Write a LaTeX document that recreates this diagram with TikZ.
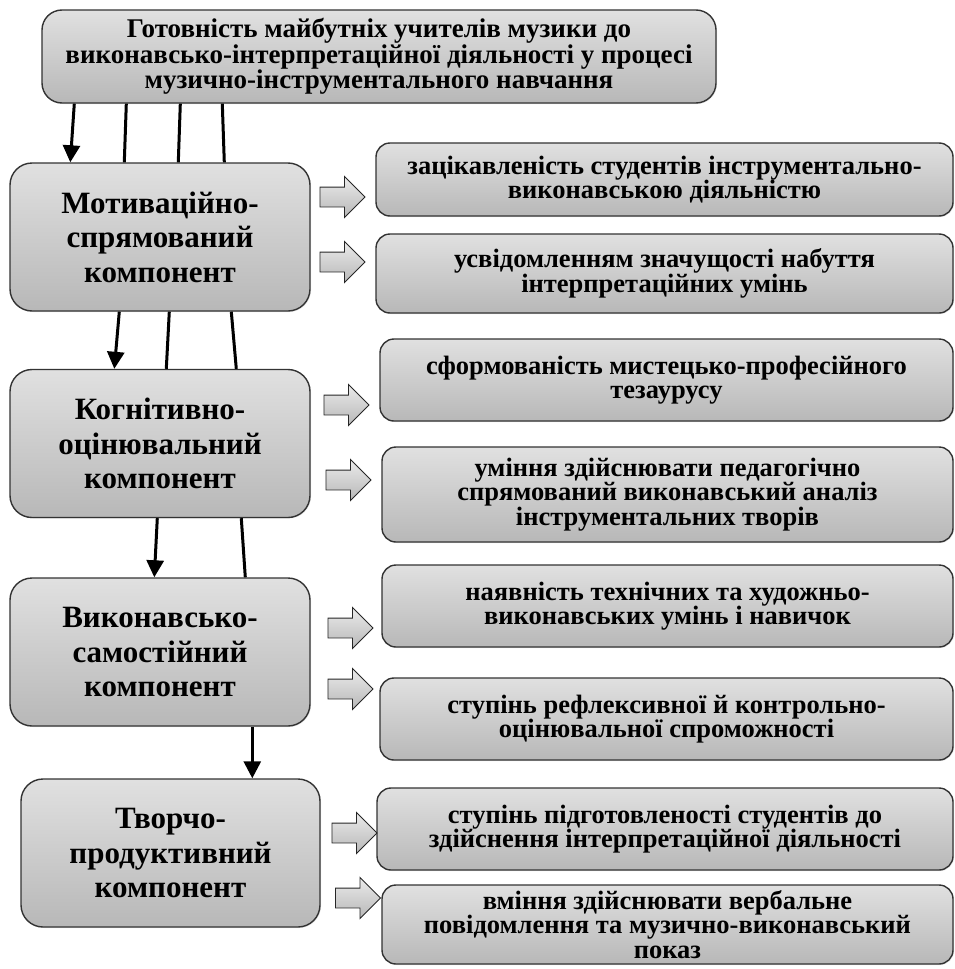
\documentclass[tikz,border=0pt]{standalone}
\usepackage{fontspec}
\setmainfont{Liberation Serif}
\usepackage{tikz}
\usetikzlibrary{shapes,arrows,arrows.meta,shadows}
\tikzstyle{boxbase} = [rectangle,draw=black!80,line width=1.4pt,top color=black!12,bottom color=black!28,drop shadow={shadow xshift=1pt,shadow yshift=-1pt,opacity=0.2},align=center,inner sep=0pt,font=\bfseries]
\tikzstyle{goalbox} = [boxbase,rounded corners=20pt,minimum width=674pt,minimum height=93pt,font=\fontsize{27}{23}\bfseries]
\tikzstyle{compbox} = [boxbase,rounded corners=22pt,minimum width=300pt,minimum height=148pt,font=\fontsize{31}{34.5}\bfseries]
\tikzstyle{featbox} = [boxbase,rounded corners=14pt,font=\fontsize{26.5}{24.5}\bfseries]
\tikzstyle{blockarrow} = [single arrow,draw=black!85,line width=0.9pt,top color=black!8,bottom color=black!28,inner sep=0pt,text height=19pt,text depth=0pt,single arrow head extend=10.5pt,minimum height=45pt]

\begin{document}
\begin{tikzpicture}[x=1pt,y=-1pt,>={Triangle[length=17pt,width=17pt]},line width=3pt]

\useasboundingbox (0,0) rectangle (955,969);

\node (gotov) [goalbox] at (379,56.5) {Готовність майбутніх учителів музики до\\виконавсько-інтерпретаційної діяльності у процесі\\музично-інструментального навчання};

\node (motyv) [compbox] at (160,237) {Мотиваційно-\\спрямований\\компонент};
\node (kogn) [compbox] at (160,443.5) {Когнітивно-\\оцінювальний\\компонент};
\node (vykon) [compbox] at (160,652) {Виконавсько-\\самостійний\\компонент};
\node (tvor) [compbox,minimum width=299pt] at (170.5,853) {Творчо-\\продуктивний\\компонент};

\node (m1) [featbox,minimum width=577pt,minimum height=73pt] at (664.5,179.5) {зацікавленість студентів інструментально-\\виконавською діяльністю};
\node (m2) [featbox,minimum width=577pt,minimum height=79pt] at (664.5,273.5) {усвідомленням значущості набуття\\інтерпретаційних умінь};
\node (k1) [featbox,minimum width=573pt,minimum height=82pt] at (666.5,380) {сформованість мистецько-професійного\\тезаурусу};
\node (k2) [featbox,minimum width=571pt,minimum height=95pt] at (667.5,494.5) {уміння здійснювати педагогічно\\спрямований виконавський аналіз\\інструментальних творів};
\node (v1) [featbox,minimum width=571pt,minimum height=82pt] at (667.5,606) {наявність технічних та художньо-\\виконавських умінь і навичок};
\node (v2) [featbox,minimum width=573pt,minimum height=82pt] at (666.5,719) {ступінь рефлексивної й контрольно-\\оцінювальної спроможності};
\node (t1) [featbox,minimum width=576pt,minimum height=82pt] at (665,829) {ступінь підготовленості студентів до\\здійснення інтерпретаційної діяльності};
\node (t2) [featbox,minimum width=571pt,minimum height=79pt] at (667.5,924.5) {вміння здійснювати вербальне\\повідомлення та музично-виконавський\\показ};

\node (am1) [blockarrow] at (337.5,197) {};
\node (am2) [blockarrow] at (337.5,262) {};
\node (ak1) [blockarrow] at (341.5,405) {};
\node (ak2) [blockarrow] at (343.5,480) {};
\node (av1) [blockarrow] at (345.5,628) {};
\node (av2) [blockarrow] at (345.5,689) {};
\node (at1) [blockarrow] at (349.5,833) {};
\node (at2) [blockarrow] at (353,898) {};

\draw[->] ([xshift=33pt]gotov.south west)--([xshift=61pt]motyv.north west);
\draw ([xshift=85pt]gotov.south west)--([xshift=115pt]motyv.north west);
\draw ([xshift=139pt]gotov.south west)--([xshift=169pt]motyv.north west);
\draw ([xshift=181pt]gotov.south west)--([xshift=215pt]motyv.north west);
\draw[->] ([xshift=110pt]motyv.south west)--([xshift=105pt]kogn.north west);
\draw ([xshift=160pt]motyv.south west)--([xshift=157pt]kogn.north west);
\draw ([xshift=222pt]motyv.south west)--([xshift=227pt]kogn.north west);
\draw[->] ([xshift=148pt]kogn.south west)--([xshift=145pt]vykon.north west);
\draw ([xshift=232pt]kogn.south west)--([xshift=236pt]vykon.north west);
\draw[->] ([xshift=243pt]vykon.south west)--([xshift=232pt]tvor.north west);

\end{tikzpicture}
\end{document}
